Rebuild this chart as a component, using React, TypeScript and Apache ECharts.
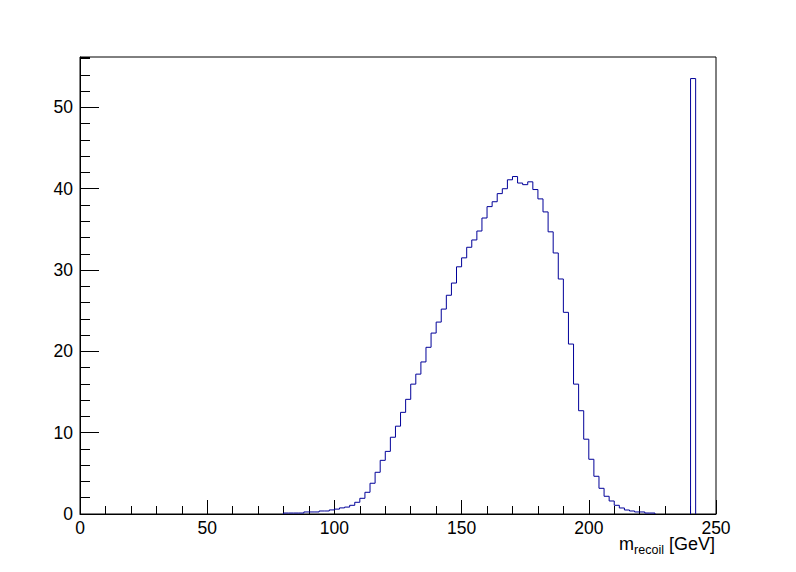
import React, { useEffect, useRef } from "react";
import * as echarts from "echarts";

// Histogram: bin width 2 GeV
const binWidth = 2;
const mainStart = 80; // low edge of first non-empty bin of the main peak
const mainValues = [
  0.12, 0.12, 0.12, 0.12, 0.25, 0.25, 0.25, 0.37, 0.37, 0.5,
  0.6, 0.75, 0.85, 1.07, 1.44, 1.93, 2.67, 3.78, 5.13, 6.6,
  7.7, 9.44, 10.8, 12.5, 14.1, 15.97, 17.2, 18.7, 20.5, 22.25,
  23.6, 25.2, 26.9, 28.4, 30.4, 31.5, 32.8, 33.7, 34.8, 36.4,
  37.8, 38.4, 39.4, 40.0, 41.1, 41.5, 40.7, 40.5, 40.85, 39.9,
  38.75, 37.15, 34.7, 32.1, 28.9, 24.8, 20.9, 15.97, 12.7, 9.2,
  6.73, 4.64, 3.16, 2.18, 1.6, 1.07, 0.74, 0.49, 0.37, 0.25,
  0.25, 0.12, 0.12,
];
const spikeStart = 240;
const spikeValues = [53.55];

const xMin = 0;
const xMax = 250;
const xInterval = 50;
const yMin = 0;
const yMax = 56.2;
const yInterval = 10;
const yMinorInterval = 2;

function outline(start: number, values: number[]): number[][] {
  const pts: number[][] = [[start, 0]];
  values.forEach((v, i) => {
    const x0 = start + i * binWidth;
    pts.push([x0, v]);
    pts.push([x0 + binWidth, v]);
  });
  pts.push([start + values.length * binWidth, 0]);
  return pts;
}

const FONT = "'Liberation Sans', Arial, Helvetica, sans-serif";
const LINE_COLOR = "#000099";

export default function App() {
  const ref = useRef<HTMLDivElement>(null);
  useEffect(() => {
    document.body.style.margin = "0";
    if (!ref.current) return;
    const chart = echarts.init(ref.current, undefined, { renderer: "svg" });
    const histStyle = {
      type: "line" as const,
      showSymbol: false,
      symbol: "none",
      silent: true,
      lineStyle: { color: LINE_COLOR, width: 1 },
      z: 1,
    };
    chart.setOption({
      animation: false,
      backgroundColor: "#ffffff",
      grid: {
        left: 80,
        right: 80,
        top: 57,
        bottom: 58,
        show: true,
        borderColor: "#000",
        borderWidth: 1,
        backgroundColor: "transparent",
      },
      xAxis: {
        type: "value",
        min: xMin,
        max: xMax,
        interval: xInterval,
        axisLine: { show: true, lineStyle: { color: "#000", width: 1 } },
        axisTick: { show: true, inside: true, length: 14, lineStyle: { color: "#000" } },
        minorTick: { show: true, splitNumber: 5, length: 8, lineStyle: { color: "#000" } },
        splitLine: { show: false },
        minorSplitLine: { show: false },
        axisLabel: { color: "#000", fontSize: 17.5, fontFamily: FONT, margin: 5 },
      },
      yAxis: [
        {
          type: "value",
          min: yMin,
          max: yMax,
          interval: yInterval,
          position: "left",
          axisLine: { show: true, lineStyle: { color: "#000", width: 1 } },
          axisTick: { show: true, inside: true, length: 19, lineStyle: { color: "#000" } },
          minorTick: { show: false },
          splitLine: { show: false },
          axisLabel: {
            color: "#000",
            fontSize: 17.5,
            fontFamily: FONT,
            margin: 7,
            showMaxLabel: false,
          },
        },
        {
          type: "value",
          min: yMin,
          max: yMax,
          interval: yMinorInterval,
          position: "left",
          offset: 0,
          axisLine: { show: false },
          axisTick: { show: true, inside: true, length: 10, lineStyle: { color: "#000" } },
          splitLine: { show: false },
          axisLabel: { show: false },
        },
      ],
      series: [
        { ...histStyle, data: outline(mainStart, mainValues) },
        { ...histStyle, data: outline(spikeStart, spikeValues) },
      ],
      graphic: [
        {
          type: "text",
          right: 81,
          top: 535,
          style: {
            text: "{m|m}{s|recoil}{m| [GeV]}",
            fill: "#000",
            rich: {
              m: { fontSize: 18, fontFamily: FONT, fill: "#000", lineHeight: 20, verticalAlign: "bottom" },
              s: {
                fontSize: 12.5,
                fontFamily: FONT,
                fill: "#000",
                lineHeight: 14,
                verticalAlign: "bottom",
                padding: [0, 0, -3, 0],
              },
            },
          },
        },
      ],
    });
    return () => chart.dispose();
  }, []);
  return <div ref={ref} style={{ width: 796, height: 572, background: "#fff" }} />;
}
